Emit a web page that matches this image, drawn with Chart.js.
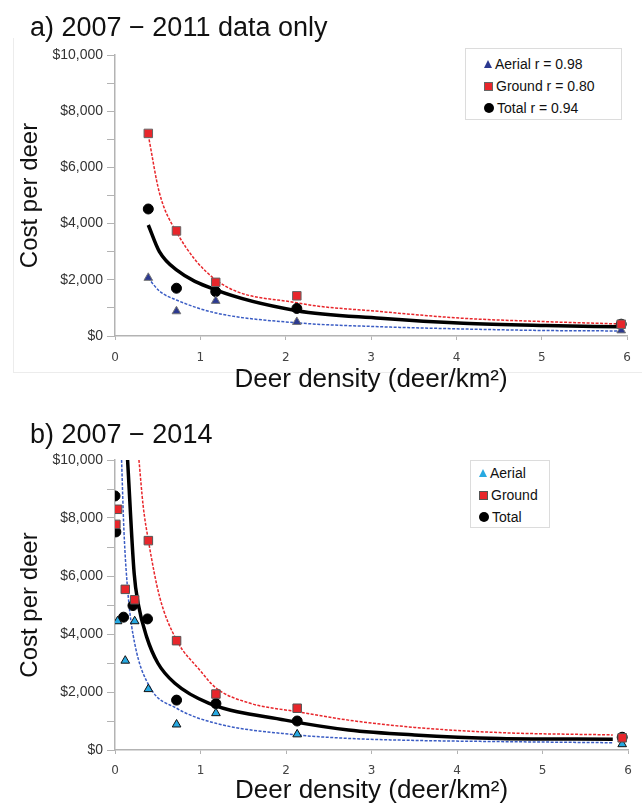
<!DOCTYPE html>
<html>
<head>
<meta charset="utf-8">
<script src="https://cdn.jsdelivr.net/npm/chart.js@4.4.0/dist/chart.umd.min.js"></script>
<style>
  body { margin: 0; background: #fff; font-family: "Liberation Sans", Arial, sans-serif; }
  #wrap { position: relative; width: 642px; height: 804px; overflow: hidden; }
  .panel { position: absolute; left: 0; width: 642px; }
  #pa { top: 0; height: 400px; }
  #pb { top: 400px; height: 404px; }
  .frame { position: absolute; left: 13px; top: 38px; width: 628px; height: 334px;
           border-left: 1px solid #ececec; border-bottom: 1px solid #ececec; }
  .ttl { position: absolute; left: 30px; font-size: 27px; line-height: 32px; color: #111; }
  .legend { position: absolute; border: 1px solid #dcdcdc; background: #fff; font-size: 14px; color: #111; box-sizing: border-box; }
  .legend div { height: 22px; line-height: 22px; white-space: nowrap; }
  .mk { display: inline-block; vertical-align: middle; margin-right: 3px; position: relative; top: -1px; }
</style>
</head>
<body>
<div id="wrap">
  <div class="frame"></div>
  <div class="panel" id="pa"><canvas id="chartA" width="642" height="400"></canvas></div>
  <div class="panel" id="pb"><canvas id="chartB" width="642" height="404"></canvas></div>
  <div class="ttl" style="top:11px">a) 2007 − 2011 data only</div>
  <div class="ttl" style="top:418px">b) 2007 − 2014</div>
  <div class="legend" id="legA" style="left:465px;top:48px;width:157px;height:72px;padding:4px 0 0 18px"></div>
  <div class="legend" id="legB" style="left:470px;top:460px;width:80px;height:68px;padding:1px 0 0 8px"></div>
</div>
<script>
// panel a: 2007-2011 data only
const densityA = [0.39, 0.72, 1.18, 2.13, 5.93];
const aerialA = [2070, 880, 1250, 500, 200];
const groundA = [7210, 3740, 1910, 1430, 420];
const totalA = [4520, 1700, 1580, 980, 420];

// fitted curves
const fitAx = [0.39, 0.52, 0.72, 1.18, 2.13, 3.11, 4.08, 5.05, 5.9];
const aerialFitAy = [2060, 1600, 1280, 820, 470, 330, 250, 195, 180];
const groundFitAy = [7150, 5100, 3700, 2000, 1180, 870, 630, 510, 430];
const totalFitAy = [3950, 3000, 2350, 1640, 900, 630, 450, 370, 330];

// panel b: 2007-2014
const aerialBx = [0.03, 0.12, 0.23, 0.39, 0.72, 1.18, 2.13, 5.93];
const aerialBy = [4440, 3080, 4440, 2100, 880, 1270, 540, 200];
const groundBx = [0.01, 0.03, 0.12, 0.23, 0.39, 0.72, 1.18, 2.13, 5.93];
const groundBy = [7780, 8300, 5540, 5180, 7220, 3770, 1930, 1440, 420];
const totalBx = [0.0, 0.01, 0.10, 0.21, 0.38, 0.72, 1.18, 2.13, 5.93];
const totalBy = [8760, 7520, 4580, 4980, 4520, 1720, 1600, 1000, 440];

// fitted curves
const aerialFitBx = [0.077, 0.104, 0.155, 0.23, 0.406, 0.72, 1.18, 2.13, 2.73, 3.5, 4.5, 5.82];
const aerialFitBy = [10000, 7600, 5290, 3680, 2180, 1440, 920, 520, 400, 330, 290, 250];
const groundFitBx = [0.28, 0.33, 0.39, 0.52, 0.72, 0.99, 1.18, 1.57, 2.13, 2.73, 3.5, 4.5, 5.82];
const groundFitBy = [10000, 8400, 7230, 5300, 3790, 2760, 2140, 1620, 1320, 1030, 780, 600, 520];
const totalFitBx = [0.147, 0.224, 0.27, 0.37, 0.5, 0.70, 1.10, 1.99, 2.73, 3.5, 4.5, 5.82];
const totalFitBy = [10000, 6090, 5060, 3900, 3000, 2300, 1610, 1030, 690, 520, 400, 370];

const xTicks = [0, 1, 2, 3, 4, 5, 6];
const yMax = 10000;

const RED = "#e8262b", BLACK = "#000", NAVY = "#2b3990", CYAN = "#27a9e1", BLUE = "#3a5cc4";

const pts = (xs, ys) => xs.map((x, i) => ({ x, y: ys[i] }));

function fitLine(xs, ys, color, width, dash) {
  return {
    type: "line", data: pts(xs, ys), borderColor: color, borderWidth: width,
    borderDash: dash, pointRadius: 0, fill: false, cubicInterpolationMode: "monotone", order: 2,
  };
}

function marks(xs, ys, style, fill, border, r) {
  return {
    type: "scatter", data: pts(xs, ys), pointStyle: style, backgroundColor: fill,
    borderColor: border, borderWidth: 1, pointRadius: r, order: 1,
  };
}

function scales(xPad, xHeight) {
  const axisCol = "#b3b3b3";
  return {
    x: {
      type: "linear", min: 0, max: 6,
      afterBuildTicks: (s) => { s.ticks = xTicks.map((v) => ({ value: v })); },
      afterFit: (s) => { s.height = xHeight; },
      ticks: { font: { family: "DejaVu Sans", size: 12 }, color: "#444", padding: xPad },
      grid: { drawOnChartArea: false, tickLength: 4, color: axisCol },
      border: { color: axisCol, width: 1.5 },
      title: { display: true, text: "Deer density (deer/km²)", color: "#111", padding: 0,
               font: { family: "Liberation Sans", size: 26, lineHeight: 1 } },
    },
    y: {
      min: 0, max: yMax,
      afterFit: (s) => { s.width = 99; },
      ticks: {
        stepSize: 1000, autoSkip: false, padding: 4, color: "#333",
        font: { family: "Liberation Sans", size: 14 },
        callback: (v) => (v % 2000 === 0 ? "$" + v.toLocaleString("en-US") : ""),
      },
      grid: { drawOnChartArea: false, tickLength: 8, color: axisCol },
      border: { color: axisCol, width: 1.5 },
      title: { display: true, text: "Cost per deer", color: "#111", padding: 0,
               font: { family: "Liberation Sans", size: 24 } },
    },
  };
}

function makeChart(id, datasets, pad, xPad, xHeight) {
  return new Chart(document.getElementById(id), {
    data: { datasets },
    options: {
      responsive: false, animation: false,
      layout: { padding: pad },
      plugins: { legend: { display: false }, tooltip: { enabled: false } },
      scales: scales(xPad, xHeight),
    },
  });
}

makeChart("chartA", [
  fitLine(fitAx, groundFitAy, RED, 1.5, [3, 1.5]),
  fitLine(fitAx, aerialFitAy, BLUE, 1.5, [3, 1.5]),
  fitLine(fitAx, totalFitAy, BLACK, 3.5, []),
  marks(densityA, groundA, "rect", RED, "#666", 6),
  marks(densityA, aerialA, "triangle", NAVY, "#777", 5),
  marks(densityA, totalA, "circle", BLACK, BLACK, 5),
], { left: 16, right: 10, top: 55, bottom: 7 }, 11, 57);

makeChart("chartB", [
  fitLine(groundFitBx, groundFitBy, RED, 1.5, [3, 1.5]),
  fitLine(aerialFitBx, aerialFitBy, BLUE, 1.5, [3, 1.5]),
  fitLine(totalFitBx, totalFitBy, BLACK, 3.5, []),
  marks(groundBx, groundBy, "rect", RED, "#555", 6),
  marks(aerialBx, aerialBy, "triangle", CYAN, "#111", 5),
  marks(totalBx, totalBy, "circle", BLACK, BLACK, 5),
], { left: 16, right: 10, top: 60, bottom: 0 }, 10, 54);

// legends
function mkShape(kind, fill, border) {
  const s = document.createElement("span");
  s.className = "mk";
  if (kind === "triangle") {
    s.style.cssText += `width:0;height:0;border-left:4px solid transparent;border-right:4px solid transparent;border-bottom:8px solid ${fill};`;
  } else if (kind === "rect") {
    s.style.cssText += `width:7px;height:7px;background:${fill};border:1px solid ${border};`;
  } else {
    s.style.cssText += `width:10px;height:10px;border-radius:50%;background:${fill};`;
  }
  return s;
}

function fillLegend(id, items) {
  const box = document.getElementById(id);
  items.forEach(([kind, fill, border, label]) => {
    const row = document.createElement("div");
    row.appendChild(mkShape(kind, fill, border));
    row.appendChild(document.createTextNode(label));
    box.appendChild(row);
  });
}

fillLegend("legA", [
  ["triangle", NAVY, "#777", "Aerial r = 0.98"],
  ["rect", RED, "#666", "Ground r = 0.80"],
  ["circle", BLACK, BLACK, "Total r = 0.94"],
]);
fillLegend("legB", [
  ["triangle", CYAN, "#111", "Aerial"],
  ["rect", RED, "#555", "Ground"],
  ["circle", BLACK, BLACK, "Total"],
]);
</script>
</body>
</html>
